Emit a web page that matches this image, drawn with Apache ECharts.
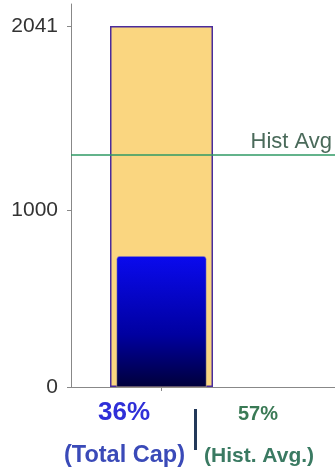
<!DOCTYPE html>
<html>
<head>
<meta charset="utf-8">
<script src="https://cdn.jsdelivr.net/npm/echarts@6/dist/echarts.min.js"></script>
<style>
  html, body { margin: 0; padding: 0; background: #fff; }
  #chart { width: 335px; height: 468px; }
</style>
</head>
<body>
<div id="chart"></div>
<script>
// Reservoir storage: total capacity vs. current storage, with the historical average
const categories = ['Storage'];
const totalCapacity = [2041];
const currentStorage = [740];
const histAvgLevel = 1315;
const histAvgPct = 57;
const yTickValues = [0, 1000, 2041];
const yMax = 2165;

const pctOfCap = Math.round(currentStorage[0] / totalCapacity[0] * 100);
const fontFam = '"Liberation Sans", Arial, sans-serif';

const chart = echarts.init(document.getElementById('chart'), null, { renderer: 'canvas' });

chart.setOption({
  backgroundColor: '#ffffff',
  animation: false,
  grid: [
    { left: 71, top: 4, bottom: 81, width: 181 },
    { left: 71, top: 4, bottom: 81, right: 0 }
  ],
  xAxis: [
    {
      type: 'category', gridIndex: 0, data: categories,
      axisLine: { show: false },
      axisTick: { show: true, alignWithLabel: true, length: 4, lineStyle: { color: '#888' } },
      axisLabel: { show: false }
    },
    {
      type: 'category', gridIndex: 0, data: categories, show: false
    },
    {
      type: 'category', gridIndex: 1, data: categories,
      axisLine: { show: true, lineStyle: { color: '#888', width: 1 } },
      axisTick: { show: false },
      axisLabel: { show: false }
    }
  ],
  yAxis: [
    {
      type: 'value', gridIndex: 0, min: 0, max: yMax,
      axisLine: { show: true, lineStyle: { color: '#888', width: 1 } },
      axisTick: { show: true, length: 4, customValues: yTickValues, lineStyle: { color: '#888' } },
      axisLabel: {
        customValues: yTickValues, color: '#333', fontSize: 21,
        fontFamily: fontFam, margin: 13,
        formatter: v => String(v)
      },
      splitLine: { show: false }
    },
    {
      type: 'value', gridIndex: 1, min: 0, max: yMax, show: false, splitLine: { show: false }
    }
  ],
  series: [
    {
      name: 'Total Capacity',
      type: 'bar', xAxisIndex: 0, yAxisIndex: 0,
      data: totalCapacity,
      barWidth: 103,
      itemStyle: { color: '#fad680', borderColor: '#4a2c9c', borderWidth: 1.5 },
      z: 2
    },
    {
      name: 'Current Storage',
      type: 'bar', xAxisIndex: 1, yAxisIndex: 0,
      data: currentStorage,
      barWidth: 90,
      itemStyle: {
        borderRadius: [3, 3, 0, 0],
        borderColor: '#e8d090', borderWidth: 0.5,
        color: new echarts.graphic.LinearGradient(0, 0, 0, 1, [
          { offset: 0, color: '#0a0aee' },
          { offset: 0.6, color: '#0000a0' },
          { offset: 1, color: '#00003a' }
        ])
      },
      z: 3
    },
    {
      name: 'Hist Avg',
      type: 'line', xAxisIndex: 2, yAxisIndex: 1,
      data: [],
      markLine: {
        symbol: 'none',
        silent: true,
        lineStyle: { color: '#2f9a64', width: 1.5, type: 'solid' },
        label: {
          show: true, position: 'insideEndTop', formatter: 'Hist Avg',
          color: '#4a6a5a', fontSize: 22, fontFamily: fontFam, distance: [3, 1]
        },
        data: [{ yAxis: histAvgLevel }]
      },
      z: 4
    }
  ],
  graphic: [
    {
      type: 'text', left: 98, top: 400,
      style: { text: pctOfCap + '%', fill: '#2f2fd8', font: 'bold 26px ' + fontFam }
    },
    {
      type: 'text', left: 64, top: 444,
      style: { text: '(Total Cap)', fill: '#3a4ab8', font: 'bold 23.5px ' + fontFam }
    },
    {
      type: 'rect', left: 194, top: 409,
      shape: { width: 3, height: 41 },
      style: { fill: '#23395a' }
    },
    {
      type: 'text', left: 238, top: 404,
      style: { text: histAvgPct + '%', fill: '#3a7a55', font: 'bold 20px ' + fontFam }
    },
    {
      type: 'text', left: 204, top: 446,
      style: { text: '(Hist. Avg.)', fill: '#3a7a62', font: 'bold 21px ' + fontFam }
    }
  ]
});
</script>
</body>
</html>
